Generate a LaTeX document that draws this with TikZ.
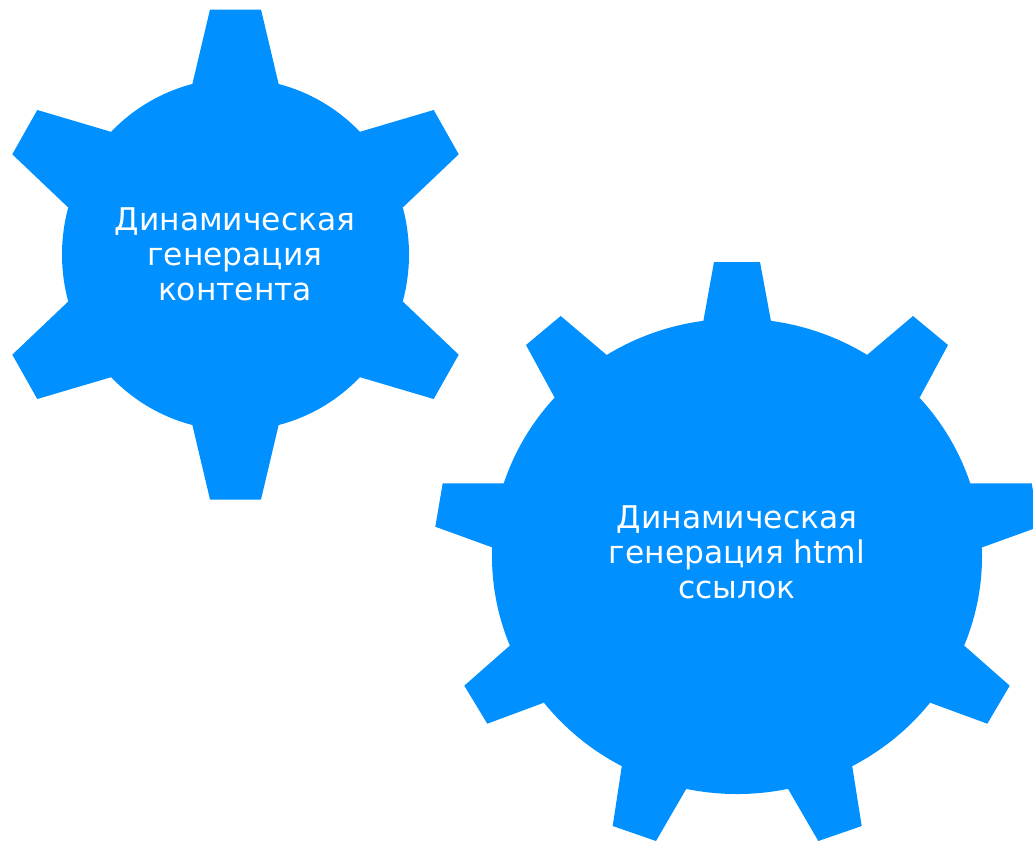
\documentclass[tikz,border=0pt]{standalone}
\usepackage{fontspec}
\setmainfont{DejaVu Sans}
\definecolor{gearblue}{HTML}{0090FF}
\tikzset{
  gearpart/.style={fill=gearblue,draw=none},
  gearlabel/.style={text=white,align=center,font=\fontsize{31.3}{35}\selectfont,inner sep=0pt}
}
\begin{document}
\begin{tikzpicture}[x=1pt,y=-1pt]
\useasboundingbox (0,0) rectangle (1033,841);
% small gear
\coordinate (c1) at (235.5,254.5);
\fill[gearpart] (c1) ellipse [x radius=173.5,y radius=176];
\fill[gearpart] (192.3,84.3)--(210,9.5)--(261,9.5)--(278.7,84.3)--(c1)--cycle;
\fill[gearpart] (192.3,424.7)--(210,499.5)--(261,499.5)--(278.7,424.7)--(c1)--cycle;
\fill[gearpart] (110.7,131.7)--(37.3,110)--(12.3,154.3)--(67.7,207)--(c1)--cycle;
\fill[gearpart] (360.3,131.7)--(433.7,110)--(458.7,154.3)--(403.3,207)--(c1)--cycle;
\fill[gearpart] (110.7,377.3)--(37.3,399)--(12.3,354.7)--(67.7,302)--(c1)--cycle;
\fill[gearpart] (360.3,377.3)--(433.7,399)--(458.7,354.7)--(403.3,302)--(c1)--cycle;
% large gear
\coordinate (c2) at (737,556.3);
\fill[gearpart] (c2) ellipse [x radius=245,y radius=237.7];
\fill[gearpart] (703.3,321.3)--(714,262)--(760,262)--(771,321.3)--(c2)--cycle;
\fill[gearpart] (606.7,355)--(560.7,316)--(526,345)--(554.3,397)--(c2)--cycle;
\fill[gearpart] (867,355)--(913,316)--(948,345)--(920,397)--(c2)--cycle;
\fill[gearpart] (503.7,483.3)--(442.7,483.3)--(435.3,526.7)--(492,547.3)--(c2)--cycle;
\fill[gearpart] (970.7,483.3)--(1031.7,483.3)--(1033,491)--(1033,529)--(982.3,547.3)--(c2)--cycle;
\fill[gearpart] (509,646.3)--(464.3,685.7)--(487.3,723.7)--(543,703)--(c2)--cycle;
\fill[gearpart] (965,646.3)--(1009.7,685.7)--(987.3,723.7)--(931,703)--(c2)--cycle;
\fill[gearpart] (621.7,766.7)--(612.7,826)--(656,841)--(686,789.3)--(c2)--cycle;
\fill[gearpart] (852.3,766.7)--(861.7,826)--(818.3,841)--(788.3,789.3)--(c2)--cycle;
% labels
\node[gearlabel] (t1) at (235,254) {Динамическая\\генерация\\контента};
\node[gearlabel] (t2) at (737,552) {Динамическая\\генерация html\\ссылок};
\end{tikzpicture}
\end{document}
